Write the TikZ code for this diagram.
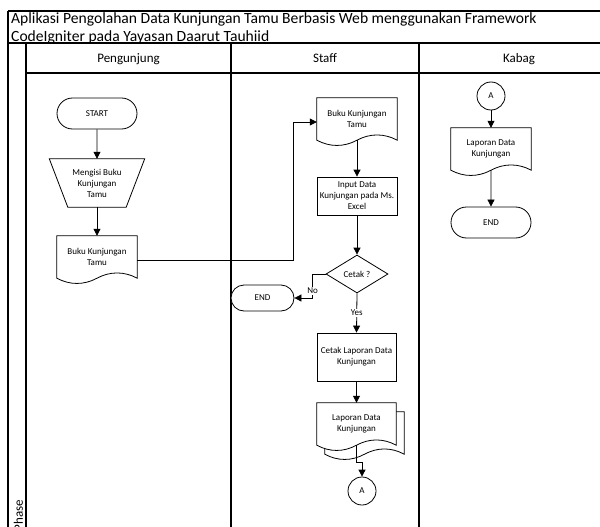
\documentclass[tikz,border=0pt]{standalone}
\usepackage{fontspec}
\setmainfont{Carlito}
\usetikzlibrary{arrows.meta,shapes.geometric,shapes.misc,calc,backgrounds}

% Outline of a document symbol around a node: straight top and sides,
% wavy bottom edge passing through the node's south anchor.
\newcommand\docoutline[2][0,0]{%
  \draw[outline] ([shift={(#1)}]#2.south west) -- ([shift={(#1)}]#2.north west)
    -- ([shift={(#1)}]#2.north east) -- ([shift={(#1)}]#2.south east)
    .. controls +(-13,-7) and +(13,-7) .. ([shift={(#1)}]#2.south)
    .. controls +(-13,7) and +(13,7) .. ([shift={(#1)}]#2.south west) -- cycle;}

\begin{document}
\begin{tikzpicture}[x=1pt,y=-1pt,
  frame/.style={line width=1.1pt},
  outline/.style={draw, line width=0.8pt, fill=white},
  flow/.style={line width=0.8pt, -{Triangle[length=7pt,width=7pt]}},
  txt/.style={font=\fontsize{9}{11}\selectfont, align=center, inner sep=0pt},
  terminal/.style={outline, txt, rounded rectangle, minimum width=80pt, minimum height=31pt},
  process/.style={outline, txt, rectangle, minimum width=80pt},
  decision/.style={outline, txt, diamond, minimum width=62pt, minimum height=38pt},
  connector/.style={outline, txt, circle, minimum size=28pt},
  docbox/.style={txt, minimum width=80pt, minimum height=42pt},
  manual/.style={txt, minimum width=95pt, minimum height=48pt},
  lanehead/.style={font=\fontsize{13}{15}\selectfont, inner sep=0pt, anchor=base},
  branch/.style={font=\fontsize{9}{11}\selectfont, fill=white, inner sep=1pt}
]
\useasboundingbox (0,0) rectangle (600,527);

% swimlane frame
\draw[frame] (8,11) -- (620,11);
\draw[frame] (8,43) -- (620,43);
\draw[frame] (8,11) -- (8,540);
\draw[frame] (26,43) -- (26,540);
\draw[frame] (26,73) -- (620,73);
\draw[frame] (231,43) -- (231,540);
\draw[frame] (419,43) -- (419,540);

\node[anchor=north west, inner sep=0pt, align=left, font=\fontsize{15.6}{17.5}\selectfont] (title) at (11,12.5)
  {Aplikasi Pengolahan Data Kunjungan Tamu Berbasis Web menggunakan Framework\\CodeIgniter pada Yayasan Daarut Tauhiid};
\node[lanehead] (hp) at (128.5,62.5) {Pengunjung};
\node[lanehead] (hs) at (325,62.5) {Staff};
\node[lanehead] (hk) at (519,62.5) {Kabag};
\node[lanehead, rotate=90, anchor=base west] (phase) at (23,531.5) {Phase};

% Pengunjung
\node[terminal] (start) at (97,113.5) {START};
\node[manual] (fill) at (97,183) {Mengisi Buku\\Kunjungan\\Tamu};
\draw[line width=0.8pt] (fill.north west) -- (fill.north east)
  -- ($(fill.south east)+(-18.5,0)$) -- ($(fill.south west)+(18.5,0)$) -- cycle;
\node[docbox] (pdoc) at (97,257) {Buku Kunjungan\\Tamu};

% Staff
\node[docbox] (sdoc) at (357,119) {Buku Kunjungan\\Tamu};
\node[process, minimum height=38pt] (input) at (357,196) {Input Data\\Kunjungan pada Ms.\\Excel};
\node[decision] (cetakq) at (357,274) {Cetak ?};
\node[terminal, minimum width=63pt, minimum height=26pt] (endS) at (262.5,298) {END};
\node[process, minimum width=79pt, minimum height=48pt] (cetak) at (356.5,357) {Cetak Laporan Data\\Kunjungan};
\node[docbox, minimum width=79pt] (mdoc) at (356.5,424) {Laporan Data\\Kunjungan};
\node[connector] (conS) at (362,491) {A};

% Kabag
\node[connector] (conK) at (491,96) {A};
\node[docbox] (kdoc) at (491,149) {Laporan Data\\Kunjungan};
\node[terminal] (endK) at (491,222.5) {END};

\begin{scope}[on background layer]
  \docoutline{pdoc}
  \docoutline{sdoc}
  \docoutline{kdoc}
  \docoutline[8,9]{mdoc}
  \docoutline{mdoc}
\end{scope}

% connectors
\draw[flow] (start) -- (fill);
\draw[flow] (fill) -- (pdoc);
\draw[flow] ($(pdoc.east)+(0,3)$) -- ++(156,0) |- ($(sdoc.west)+(0,3)$);
\draw[flow] (sdoc.south) -- (input);
\draw[flow] (input) -- (cetakq);
\draw[flow] (cetakq.west) -- ++(-13,0) |- node[branch, pos=0.35] {No} (endS.east);
\draw[flow] (cetakq.south) -- node[branch] {Yes} (cetak.north);
\draw[flow] (cetak) -- (mdoc);
\draw[flow] (mdoc.south) -- ++(0,17) -| (conS.north);
\draw[flow] (conK) -- (kdoc);
\draw[flow] (kdoc.south) -- (endK);
\end{tikzpicture}
\end{document}
